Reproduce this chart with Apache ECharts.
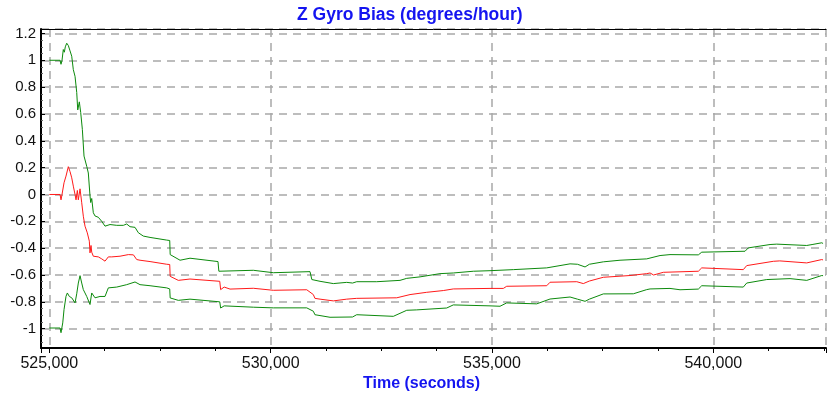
<!DOCTYPE html>
<html>
<head>
<meta charset="utf-8">
<script src="https://cdn.jsdelivr.net/npm/echarts@6/dist/echarts.min.js"></script>
<style>html,body{margin:0;padding:0;background:#fff;}#c{width:827px;height:400px;}</style>
</head>
<body>
<div id="c"></div>
<script>
const titleText = 'Z Gyro Bias (degrees/hour)';
const xAxisName = 'Time (seconds)';
const timeBase = 525000;
const xMin = 524812, xMax = 542545, xStep = 5000;
const yMin = -1.144, yMax = 1.233, yStep = 0.2;

const upperTime = [0,242,264,287,316,339,361,393,429,468,506,542,581,619,642,678,709,746,784,845,881,919,935,958,994,1032,1107,1184,1258,1297,1371,1523,1672,1748,1823,1936,2011,2123,2275,2652,2720,2730,2953,3178,3810,3830,4608,5060,5889,5930,6115,6416,6718,6850,6944,7396,7922,8074,8374,8826,9126,9578,9955,10482,11236,11763,11930,12102,12200,12515,12892,13495,13796,14021,14661,14738,15716,15791,16281,16432,17110,17250,17449,17478];
const upperVals = [1.0,1.0,0.97,1.0,1.08,1.06,1.10,1.127,1.11,1.07,1.03,0.93,0.88,0.76,0.63,0.69,0.61,0.485,0.286,0.21,0.16,-0.01,-0.06,-0.03,-0.136,-0.16,-0.17,-0.2,-0.236,-0.25,-0.224,-0.23,-0.23,-0.22,-0.24,-0.245,-0.285,-0.31,-0.32,-0.34,-0.343,-0.448,-0.49,-0.475,-0.50,-0.572,-0.565,-0.583,-0.575,-0.634,-0.647,-0.664,-0.655,-0.66,-0.65,-0.65,-0.64,-0.625,-0.614,-0.59,-0.585,-0.572,-0.568,-0.56,-0.547,-0.517,-0.52,-0.54,-0.52,-0.502,-0.49,-0.48,-0.455,-0.448,-0.45,-0.43,-0.423,-0.398,-0.373,-0.37,-0.38,-0.372,-0.36,-0.365];

const midTime = [0,242,264,287,332,377,429,468,506,542,581,603,633,655,694,732,768,806,858,904,919,942,958,994,1107,1184,1258,1297,1333,1410,1597,1785,1900,1974,2049,2275,2652,2720,2730,2914,3178,3850,3870,3950,4082,4608,5060,5815,5964,6000,6115,6416,6718,6944,7848,8148,8525,8900,9126,9955,10256,10332,11236,11311,11915,12063,12200,12515,13118,13495,13570,13650,13870,14661,14738,15677,15754,16355,16500,17110,17449,17478];
const midVals = [0,0,-0.04,0.0,0.087,0.137,0.207,0.17,0.124,0.062,0.0,-0.04,0.03,-0.04,0.042,-0.062,-0.162,-0.236,-0.286,-0.348,-0.435,-0.38,-0.43,-0.46,-0.465,-0.48,-0.497,-0.505,-0.465,-0.465,-0.46,-0.448,-0.45,-0.485,-0.49,-0.5,-0.52,-0.522,-0.61,-0.64,-0.63,-0.647,-0.709,-0.69,-0.705,-0.699,-0.714,-0.71,-0.746,-0.774,-0.78,-0.793,-0.78,-0.774,-0.77,-0.746,-0.729,-0.716,-0.704,-0.70,-0.70,-0.684,-0.68,-0.654,-0.65,-0.664,-0.645,-0.617,-0.604,-0.59,-0.585,-0.6,-0.58,-0.572,-0.547,-0.56,-0.53,-0.498,-0.495,-0.51,-0.485,-0.488];

const lowerTime = [0,242,264,303,332,377,407,452,506,542,581,619,655,694,732,768,806,845,881,919,958,1032,1145,1258,1333,1523,1748,1936,2049,2275,2652,2720,2730,2914,3178,3850,3870,3950,4608,5060,5815,5964,6000,6341,6850,6944,7771,8074,8299,8977,9126,9955,10181,10332,11010,11311,11763,11930,12102,12200,12515,13193,13495,13570,14021,14247,14661,14738,15677,15754,16206,16733,17110,17449,17478];
const lowerVals = [-0.995,-0.995,-1.03,-0.957,-0.858,-0.759,-0.734,-0.76,-0.77,-0.76,-0.808,-0.74,-0.66,-0.605,-0.66,-0.709,-0.734,-0.76,-0.75,-0.82,-0.734,-0.77,-0.76,-0.76,-0.696,-0.69,-0.672,-0.652,-0.672,-0.68,-0.696,-0.704,-0.771,-0.789,-0.78,-0.80,-0.846,-0.83,-0.84,-0.845,-0.845,-0.87,-0.896,-0.915,-0.913,-0.896,-0.908,-0.863,-0.86,-0.846,-0.823,-0.83,-0.833,-0.808,-0.815,-0.779,-0.764,-0.78,-0.796,-0.78,-0.741,-0.74,-0.709,-0.704,-0.70,-0.71,-0.705,-0.68,-0.69,-0.66,-0.634,-0.627,-0.64,-0.604,-0.605];

const greenColor = '#0c8a0c';
const redColor = '#ff1a1a';
const blue = '#1414f0';
const font = 'Liberation Sans, Arial, sans-serif';

function pairs(t, v){ return t.map((o,i)=>[timeBase+o, v[i]]); }
function isMult(v, s){ const r = v/s; return Math.abs(r - Math.round(r)) < 1e-6; }

const splitStyle = {show:true, lineStyle:{color:'#a8a8a8', width:1.5, type:[8,6]}};

const chart = echarts.init(document.getElementById('c'), null, {renderer:'canvas'});
chart.setOption({
  animation:false,
  backgroundColor:'#fff',
  title:[
    {text:titleText, left:297, top:6, padding:0, textStyle:{color:blue, fontSize:17.5, fontWeight:'bold', fontFamily:font}},
    {text:xAxisName, left:363, top:376, padding:0, textStyle:{color:blue, fontSize:16, fontWeight:'bold', fontFamily:font}}
  ],
  grid:{left:41, top:29, width:785, height:319, containLabel:false},
  xAxis:[{
    type:'value', min:xMin, max:xMax, minInterval:xStep, maxInterval:xStep, splitNumber:4,
    axisLine:{show:true, onZero:false, lineStyle:{color:'#000', width:2}},
    axisTick:{show:true, inside:false, length:5, lineStyle:{color:'#000'}},
    minorTick:{show:true, splitNumber:4, length:3, lineStyle:{color:'#000'}},
    axisLabel:{color:'#111', fontSize:16, margin:8, showMinLabel:false, showMaxLabel:false, fontFamily:font,
      formatter:v=> isMult(v, xStep) ? Math.round(v).toLocaleString('en-US') : ''},
    splitLine:splitStyle
  },{
    type:'value', position:'top', min:xMin, max:xMax,
    axisLine:{show:true, onZero:false, lineStyle:{color:'#000', width:1}},
    axisTick:{show:false}, axisLabel:{show:false}, splitLine:{show:false}
  }],
  yAxis:{
    type:'value', min:yMin, max:yMax, minInterval:yStep, maxInterval:yStep, splitNumber:12,
    axisLine:{show:true, onZero:false, lineStyle:{color:'#000', width:2}},
    axisTick:{show:true, inside:true, length:4, lineStyle:{color:'#000'}},
    minorTick:{show:true, splitNumber:4, length:2, lineStyle:{color:'#666'}},
    axisLabel:{color:'#111', fontSize:15, margin:5, showMinLabel:false, showMaxLabel:false, fontFamily:font,
      formatter:v=> isMult(v, yStep) ? String(parseFloat(v.toFixed(1))) : ''},
    splitLine:splitStyle
  },
  series:[
    {name:'upper', type:'line', data:pairs(upperTime, upperVals), showSymbol:false, symbol:'none', lineStyle:{color:greenColor, width:1}, itemStyle:{color:greenColor}},
    {name:'estimate', type:'line', data:pairs(midTime, midVals), showSymbol:false, symbol:'none', lineStyle:{color:redColor, width:1}, itemStyle:{color:redColor}},
    {name:'lower', type:'line', data:pairs(lowerTime, lowerVals), showSymbol:false, symbol:'none', lineStyle:{color:greenColor, width:1}, itemStyle:{color:greenColor}}
  ]
});
</script>
</body>
</html>
